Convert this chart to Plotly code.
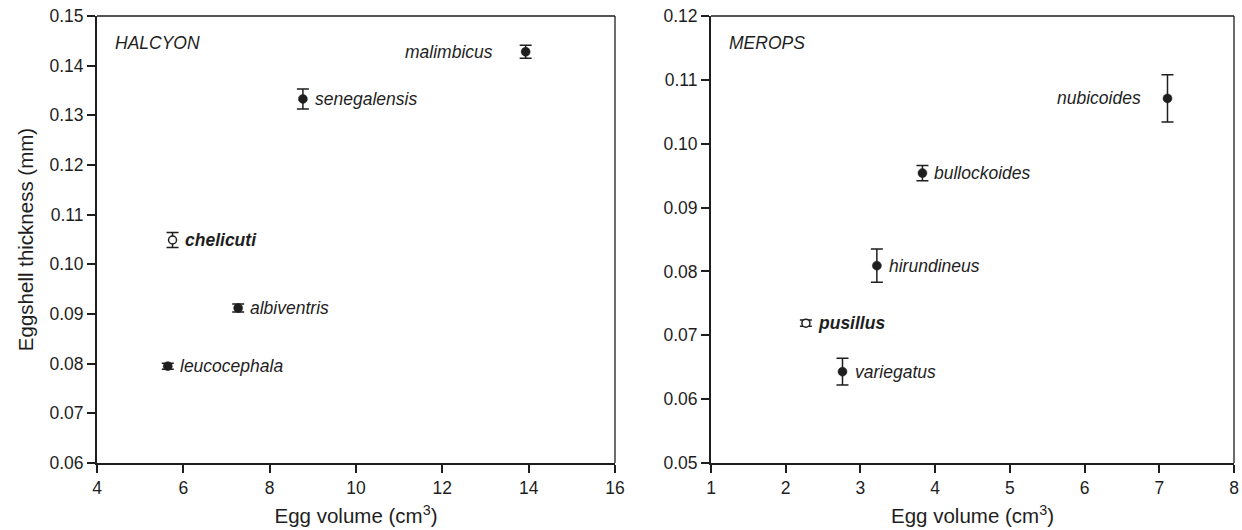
import plotly.graph_objects as go

# HALCYON panel
h_species = ["malimbicus", "senegalensis", "chelicuti", "albiventris", "leucocephala"]
h_volume = [13.93, 8.77, 5.75, 7.27, 5.64]
h_thick = [0.1428, 0.1333, 0.1049, 0.0912, 0.0795]
h_err = [0.0013, 0.0020, 0.0015, 0.0008, 0.0006]
h_open = [False, False, True, False, False]
h_labelside = ["left", "right", "right", "right", "right"]

# MEROPS panel
m_species = ["nubicoides", "bullockoides", "hirundineus", "pusillus", "variegatus"]
m_volume = [7.11, 3.83, 3.22, 2.27, 2.76]
m_thick = [0.1071, 0.0954, 0.0809, 0.0719, 0.0643]
m_err = [0.0037, 0.0012, 0.0026, 0.0005, 0.0021]
m_open = [False, False, False, True, False]
m_labelside = ["left", "right", "right", "right", "right"]

INK = "#1e1e1e"
FONT = "Liberation Sans, Arial, sans-serif"
LBL = 17.5
TICK = 17.5
TITLE = 20.5

fig = go.Figure()

def add_panel(xs, ys, errs, opens, names, sides, xref, yref, left_gap):
    for x, y, e, o, n, s in zip(xs, ys, errs, opens, names, sides):
        fig.add_trace(go.Scatter(
            x=[x], y=[y], mode="markers", xaxis=xref, yaxis=yref,
            error_y=dict(type="data", array=[e], visible=True, color=INK,
                         thickness=1.5, width=6),
            marker=dict(size=9 if not o else 8,
                        color="white" if o else INK,
                        line=dict(color=INK, width=1.5 if o else 0.5)),
            showlegend=False, hoverinfo="skip"))
        txt = f"<b><i>{n}</i></b>" if o else f"<i>{n}</i>"
        if s == "right":
            fig.add_annotation(x=x, y=y, xref=xref, yref=yref, text=txt,
                               showarrow=False, xanchor="left", yanchor="middle",
                               xshift=10, font=dict(size=LBL, color=INK, family=FONT))
        else:
            fig.add_annotation(x=x, y=y, xref=xref, yref=yref, text=txt,
                               showarrow=False, xanchor="right", yanchor="middle",
                               xshift=-left_gap, font=dict(size=LBL, color=INK, family=FONT))

add_panel(h_volume, h_thick, h_err, h_open, h_species, h_labelside, "x", "y", 31)
add_panel(m_volume, m_thick, m_err, m_open, m_species, m_labelside, "x2", "y2", 25)

H = 530
W = 1242
ydom = [1 - 463 / H, 1 - 16 / H]
axis_common = dict(showline=True, linecolor=INK, linewidth=2, ticks="outside",
                   ticklen=8, tickwidth=1.5, tickcolor=INK, showgrid=False,
                   zeroline=False, automargin=False,
                   tickfont=dict(size=TICK, color=INK, family=FONT))

fig.update_layout(
    width=W, height=H, margin=dict(l=0, r=0, t=0, b=0),
    plot_bgcolor="white", paper_bgcolor="white",
    font=dict(family=FONT, color=INK),
    xaxis=dict(domain=[97 / W, 615 / W], range=[4, 16], tickvals=[4, 6, 8, 10, 12, 14, 16],
               title=dict(text="Egg volume (cm<sup>3</sup>)", font=dict(size=TITLE, color=INK), standoff=12),
               anchor="y", **axis_common),
    yaxis=dict(domain=ydom, range=[0.06, 0.15],
               tickvals=[0.06, 0.07, 0.08, 0.09, 0.10, 0.11, 0.12, 0.13, 0.14, 0.15],
               ticktext=["0.06", "0.07", "0.08", "0.09", "0.10", "0.11", "0.12", "0.13", "0.14", "0.15"],
               title=dict(text="Eggshell thickness (mm)", font=dict(size=TITLE, color=INK), standoff=10),
               anchor="x", **axis_common),
    xaxis2=dict(domain=[711 / W, 1234 / W], range=[1, 8], tickvals=[1, 2, 3, 4, 5, 6, 7, 8],
                title=dict(text="Egg volume (cm<sup>3</sup>)", font=dict(size=TITLE, color=INK), standoff=12),
                anchor="y2", **axis_common),
    yaxis2=dict(domain=ydom, range=[0.05, 0.12],
                tickvals=[0.05, 0.06, 0.07, 0.08, 0.09, 0.10, 0.11, 0.12],
                ticktext=["0.05", "0.06", "0.07", "0.08", "0.09", "0.10", "0.11", "0.12"],
                anchor="x2", **axis_common),
)

# frame top/right lines
for xr, yr in [("x", "y"), ("x2", "y2")]:
    fig.add_shape(type="line", xref=f"{xr} domain", yref=f"{yr} domain",
                  x0=0, x1=1, y0=1, y1=1, line=dict(color=INK, width=1.3))
    fig.add_shape(type="line", xref=f"{xr} domain", yref=f"{yr} domain",
                  x0=1, x1=1, y0=0, y1=1, line=dict(color=INK, width=1.3))

fig.add_annotation(x=0.03, y=0.94, xref="x domain", yref="y domain", text="<i>HALCYON</i>",
                   showarrow=False, xanchor="left", yanchor="middle",
                   font=dict(size=LBL, color=INK, family=FONT))
fig.add_annotation(x=0.03, y=0.94, xref="x2 domain", yref="y2 domain", text="<i>MEROPS</i>",
                   showarrow=False, xanchor="left", yanchor="middle",
                   font=dict(size=LBL, color=INK, family=FONT))

fig.write_html("out.html")
